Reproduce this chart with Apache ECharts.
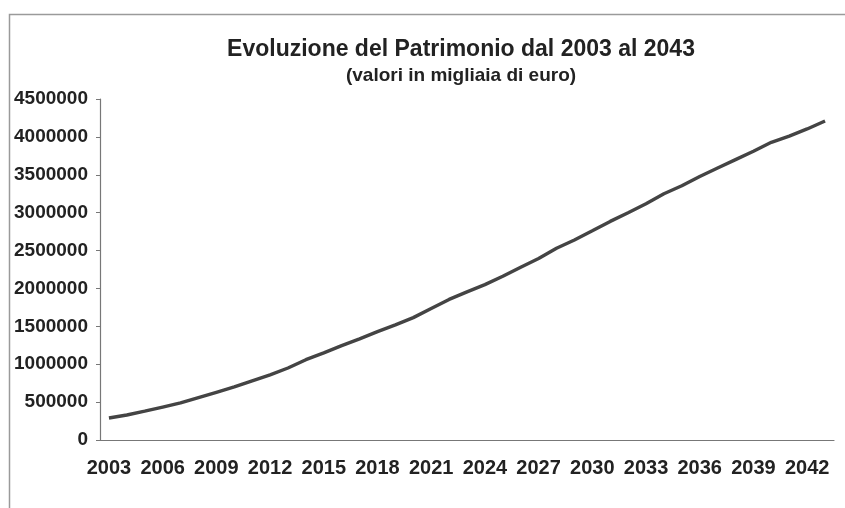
<!DOCTYPE html>
<html>
<head>
<meta charset="utf-8">
<script src="https://cdn.jsdelivr.net/npm/echarts@6/dist/echarts.min.js"></script>
<style>html,body{margin:0;padding:0;background:#fff;}#c{width:845px;height:508px;}</style>
</head>
<body>
<div id="c"></div>
<script>
const years = [];
for (let y = 2003; y <= 2043; y++) years.push(String(y));
const patrimonio = [
  290000, 330000, 380000, 435000, 490000, 560000, 630000, 700000, 780000, 860000,
  950000, 1060000, 1150000, 1245000, 1335000, 1430000, 1520000, 1615000, 1735000, 1855000,
  1955000, 2050000, 2160000, 2280000, 2395000, 2530000, 2640000, 2760000, 2885000, 3000000,
  3118000, 3250000, 3355000, 3478000, 3590000, 3700000, 3810000, 3928000, 4010000, 4105000,
  4210000
];
const titleText = 'Evoluzione del Patrimonio dal 2003 al 2043';
const subtitleText = '(valori in migliaia di euro)';

const chart = echarts.init(document.getElementById('c'));
chart.setOption({
  backgroundColor: '#fff',
  animation: false,
  title: {
    text: titleText,
    subtext: subtitleText,
    left: 456, textAlign: 'center',
    top: 33,
    itemGap: 5,
    textStyle: { fontFamily: 'Liberation Sans', fontWeight: 'bold', fontSize: 23, color: '#222' },
    subtextStyle: { fontFamily: 'Liberation Sans', fontWeight: 'bold', fontSize: 19, color: '#222' }
  },
  graphic: [{
    type: 'rect', left: 7, top: 12, silent: true,
    shape: { width: 900, height: 600 },
    style: { fill: 'none', stroke: '#9a9a9a', lineWidth: 1.5 }
  }],
  grid: { left: 100, right: 11, top: 99, bottom: 68, containLabel: false },
  xAxis: {
    type: 'category',
    data: years,
    boundaryGap: true,
    axisLine: { lineStyle: { color: '#777', width: 1.2 } },
    axisTick: { interval: 0, length: 5, lineStyle: { color: '#777' } },
    axisLabel: { interval: 2, margin: 18, fontFamily: 'Liberation Sans', fontWeight: 'bold', fontSize: 20, color: '#222' },
    splitLine: { show: false }
  },
  yAxis: {
    type: 'value',
    min: 0, max: 4500000, interval: 500000,
    axisLine: { show: true, lineStyle: { color: '#777', width: 1.2 } },
    axisTick: { show: true, length: 4, lineStyle: { color: '#777' } },
    axisLabel: { margin: 12, fontFamily: 'Liberation Sans', fontWeight: 'bold', fontSize: 19, color: '#222',
      formatter: v => String(v) },
    splitLine: { show: false }
  },
  series: [{
    type: 'line',
    data: patrimonio,
    showSymbol: false,
    smooth: false,
    lineStyle: { color: '#444', width: 3.4 }
  }]
});
</script>
</body>
</html>
